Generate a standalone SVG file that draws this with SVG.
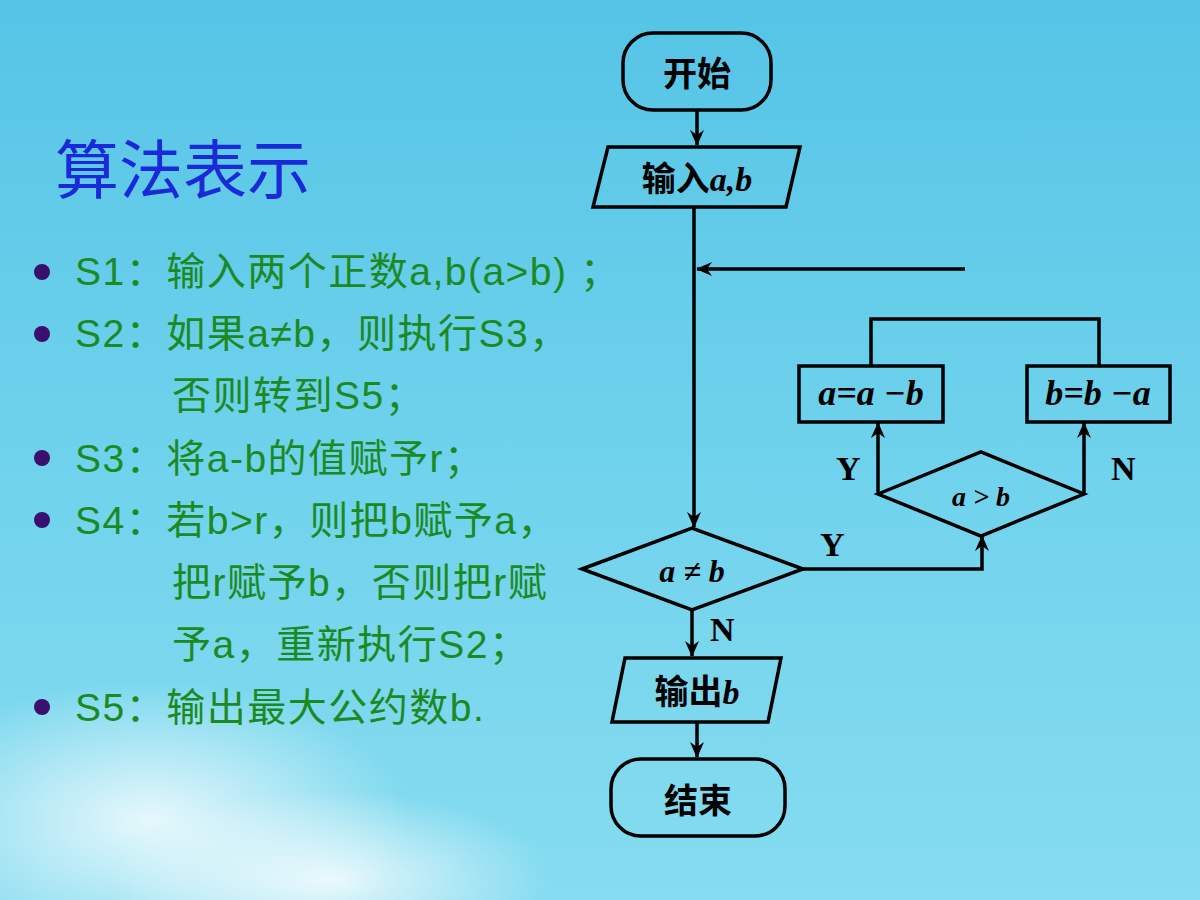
<svg xmlns="http://www.w3.org/2000/svg" width="1200" height="900" viewBox="0 0 1200 900">
<defs>
<linearGradient id="bg" x1="0" y1="0" x2="0" y2="1">
<stop offset="0" stop-color="#55c4e6"/><stop offset="0.5" stop-color="#6fd2ec"/><stop offset="1" stop-color="#86dcf0"/>
</linearGradient>
<radialGradient id="cl" cx="0.5" cy="0.5" r="0.5">
<stop offset="0" stop-color="#ffffff" stop-opacity="0.8"/><stop offset="1" stop-color="#ffffff" stop-opacity="0"/>
</radialGradient>
<marker id="ar" viewBox="0 0 16 14" refX="15" refY="7" markerWidth="16" markerHeight="14" markerUnits="userSpaceOnUse" orient="auto">
<path d="M0,0 L16,7 L0,14 L5,7 Z" fill="#000"/>
</marker>
<style>
.s{fill:none;stroke:#000;stroke-width:3.5}
.c{stroke:#000;stroke-width:3.5;fill:none}
.cn{font-family:"Noto Sans CJK SC",sans-serif;font-weight:bold;font-size:34px;text-anchor:middle}
.it{font-family:"Liberation Serif",serif;font-style:italic;font-weight:bold}
.lb{font-family:"Liberation Serif",serif;font-weight:bold;font-size:34px}
.tx{font-family:"Liberation Sans","Noto Sans CJK SC",sans-serif;font-size:39px;letter-spacing:1.5px;fill:#1c8a22}
</style>
</defs>
<rect width="1200" height="900" fill="url(#bg)"/>
<ellipse cx="150" cy="820" rx="260" ry="140" fill="url(#cl)"/>
<ellipse cx="330" cy="880" rx="220" ry="90" fill="url(#cl)"/>
<text x="55" y="193" font-family="Liberation Sans,'Noto Sans CJK SC',sans-serif" font-size="64" fill="#1a2ad8">算法表示</text>
<g fill="#3a0f6e">
<circle cx="42" cy="272" r="8"/><circle cx="42" cy="334" r="8"/><circle cx="42" cy="458" r="8"/><circle cx="42" cy="520" r="8"/><circle cx="42" cy="707" r="8"/>
</g>
<g class="tx">
<text x="75" y="285">S1：输入两个正数a,b(a&gt;b) ；</text>
<text x="75" y="347">S2：如果a≠b，则执行S3，</text>
<text x="172" y="409">否则转到S5；</text>
<text x="75" y="472">S3：将a-b的值赋予r；</text>
<text x="75" y="534">S4：若b&gt;r，则把b赋予a，</text>
<text x="172" y="596">把r赋予b，否则把r赋</text>
<text x="172" y="658">予a，重新执行S2；</text>
<text x="75" y="721">S5：输出最大公约数b.</text>
</g>
<g id="start"><rect class="s" x="623" y="33" width="148" height="77" rx="30"/><text class="cn" x="697" y="86">开始</text></g>
<g id="input"><polygon class="s" points="608,147 800,147 786,207 593,207"/><text class="cn" x="697" y="191">输入<tspan class="it">a,b</tspan></text></g>
<g id="cond1"><polygon class="s" points="582,569 692,528 803,569 692,610"/><text class="it" x="692" y="582" font-size="32" text-anchor="middle">a ≠ b</text></g>
<g id="cond2"><polygon class="s" points="878,494 981,452 1084,494 981,536"/><text class="it" x="981" y="506" font-size="28" text-anchor="middle">a &gt; b</text></g>
<g id="sub1"><rect class="s" x="799" y="366" width="144" height="56"/><text class="it" x="871" y="405" font-size="36" text-anchor="middle">a=a −b</text></g>
<g id="sub2"><rect class="s" x="1027" y="366" width="143" height="56"/><text class="it" x="1098" y="405" font-size="36" text-anchor="middle">b=b −a</text></g>
<g id="output"><polygon class="s" points="625,658 781,658 768,722 612,722"/><text class="cn" x="697" y="704">输出<tspan class="it">b</tspan></text></g>
<g id="end"><rect class="s" x="611" y="759" width="174" height="77" rx="30"/><text class="cn" x="698" y="813">结束</text></g>
<g id="connectors">
<line class="c" x1="697" y1="110" x2="697" y2="145" marker-end="url(#ar)"/>
<line class="c" x1="694" y1="207" x2="694" y2="527" marker-end="url(#ar)"/>
<line class="c" x1="965" y1="269" x2="697" y2="269" marker-end="url(#ar)"/>
<polyline class="c" points="803,569 982,569 982,536" marker-end="url(#ar)"/>
<line class="c" x1="878" y1="494" x2="878" y2="423" marker-end="url(#ar)"/>
<line class="c" x1="1084" y1="494" x2="1084" y2="423" marker-end="url(#ar)"/>
<polyline class="c" points="871,366 871,319 1099,319 1099,366"/>
<line class="c" x1="692" y1="610" x2="692" y2="656" marker-end="url(#ar)"/>
<line class="c" x1="697" y1="722" x2="697" y2="757" marker-end="url(#ar)"/>
<text class="lb" x="820" y="556">Y</text>
<text class="lb" x="836" y="480">Y</text>
<text class="lb" x="1111" y="480">N</text>
<text class="lb" x="710" y="641">N</text>
</g>
</svg>
